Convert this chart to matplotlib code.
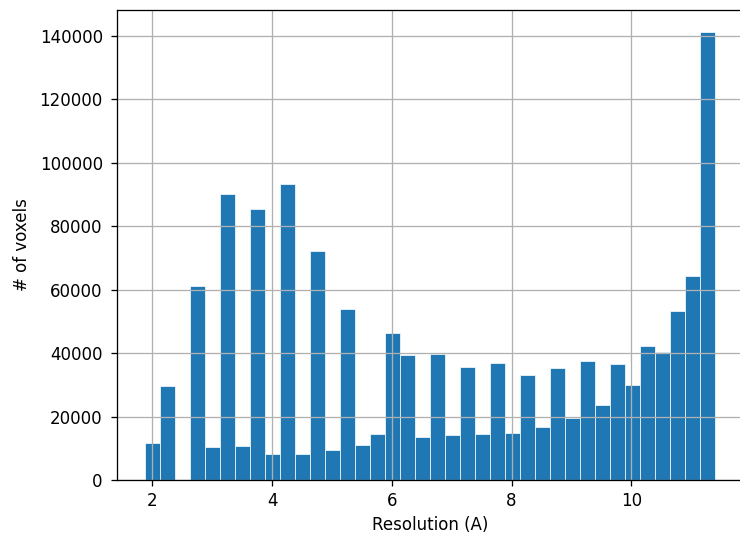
import numpy as np
import matplotlib
matplotlib.use("Agg")
import matplotlib.pyplot as plt

# histogram of voxel resolutions (38 bins)
bin_lo = 1.875
bin_hi = 11.4
n_bins = 38
counts = [
    11800, 29600, 0, 61000, 10400, 90200, 10800, 85500, 8100, 93100,
    8100, 72200, 9300, 53900, 11100, 14400, 46400, 39300, 13600, 39700,
    14100, 35500, 14400, 36800, 14700, 33200, 16800, 35200, 19600, 37600,
    23500, 36400, 30000, 42300, 40200, 53100, 64300, 141000,
]
x_label = "Resolution (A)"
y_label = "# of voxels"

s = 1.2
plt.rcParams.update({
    "font.size": 10 * s,
    "axes.linewidth": 0.8 * 1.16,
    "grid.linewidth": 0.8 * 1.16,
    "xtick.major.size": 3.5 * s,
    "ytick.major.size": 3.5 * s,
    "xtick.major.width": 0.8 * 1.16,
    "ytick.major.width": 0.8 * 1.16,
    "xtick.major.pad": 3.5 * s,
    "ytick.major.pad": 3.5 * s + 1.5,
    "axes.labelpad": 4.0 * s,
})

edges = np.linspace(bin_lo, bin_hi, n_bins + 1)
centers = (edges[:-1] + edges[1:]) / 2

fig = plt.figure(figsize=(7.4, 5.35), dpi=100)
left_px, right_px, bottom_px, top_px = 116.5, 743.6, 480, 10
ax = fig.add_axes([left_px / 740, (535 - bottom_px) / 535,
                   (right_px - left_px) / 740, (bottom_px - top_px) / 535])
ax.hist(centers, bins=edges, weights=counts, color="#1f77b4",
        edgecolor="white", linewidth=0.5)
ax.grid(True)
ax.set_xlabel(x_label)
ax.set_ylabel(y_label, labelpad=4.0 * s + 1.5)
fig.savefig("out.png", dpi=100)
